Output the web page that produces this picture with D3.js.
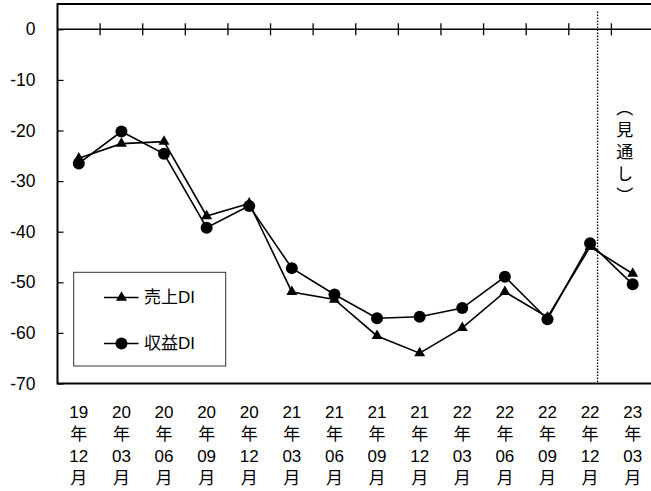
<!DOCTYPE html>
<html>
<head>
<meta charset="utf-8">
<script src="https://cdn.jsdelivr.net/npm/d3@7"></script>
<style>
  html, body { margin: 0; padding: 0; background: #fff; }
  svg { display: block; }
  text { font-family: "Liberation Sans", Arial, "Noto Sans CJK JP", sans-serif; fill: #000; }
</style>
</head>
<body>
<div id="chart"></div>
<script>
// quarter labels (year / month) along the x axis
const years = ['19', '20', '20', '20', '20', '21', '21', '21', '21', '22', '22', '22', '22', '23']
const months = ['12', '03', '06', '09', '12', '03', '06', '09', '12', '03', '06', '09', '12', '03']
const categories = years.map((y, i) => `${y}年${months[i]}月`)

// DI values
const salesDI = [-25.5, -22.6, -22.2, -36.9, -34.4, -51.9, -53.4, -60.6, -64.0, -59.0, -51.9, -56.9, -43.0, -48.3]
const profitDI = [-26.5, -20.2, -24.6, -39.2, -34.9, -47.2, -52.4, -57.1, -56.8, -55.1, -48.9, -57.3, -42.3, -50.4]

const yTicks = [0, -10, -20, -30, -40, -50, -60, -70]
const seriesNames = ['売上DI', '収益DI']
const forecastLabel = '（見通し）'

const W = 651
const H = 491
const plot = { left: 57.5, right: 654, top: 4, bottom: 383.5 }

const x = d3.scaleBand().domain(categories).range([plot.left, plot.right])
const y = d3.scaleLinear().domain([-70, 5]).range([plot.bottom, plot.top])
const cx = (i) => x(categories[i]) + x.bandwidth() / 2

const svg = d3.select('#chart').append('svg')
  .attr('width', W)
  .attr('height', H)

// frame
svg.append('rect')
  .attr('x', plot.left)
  .attr('y', plot.top)
  .attr('width', plot.right - plot.left)
  .attr('height', plot.bottom - plot.top)
  .attr('fill', 'none')
  .attr('stroke', '#000')
  .attr('stroke-width', 2)

// y axis, ticks pointing inward, plain hyphen minus
const yAxis = svg.append('g')
  .attr('transform', `translate(${plot.left},0)`)
  .call(d3.axisLeft(y).tickValues(yTicks).tickFormat((d) => String(d))
    .tickSizeInner(-6).tickSizeOuter(0).tickPadding(22))
yAxis.select('.domain').remove()
yAxis.selectAll('.tick line').attr('stroke', '#000').attr('stroke-width', 1.2)
yAxis.selectAll('.tick text')
  .attr('font-size', 17.5)
  .attr('font-family', '"Liberation Sans", Arial, sans-serif')

// zero line with category boundary ticks
svg.append('line')
  .attr('x1', plot.left)
  .attr('x2', plot.right)
  .attr('y1', y(0))
  .attr('y2', y(0))
  .attr('stroke', '#000')
  .attr('stroke-width', 1.6)

svg.append('g')
  .selectAll('line')
  .data(categories.slice(1))
  .join('line')
  .attr('x1', (d) => x(d))
  .attr('x2', (d) => x(d))
  .attr('y1', y(0) - 6)
  .attr('y2', y(0) + 6)
  .attr('stroke', '#000')
  .attr('stroke-width', 1.3)

// x labels, stacked vertically
const xl = svg.append('g')
  .selectAll('text')
  .data(categories)
  .join('text')
  .attr('text-anchor', 'middle')
  .attr('font-size', 17)
xl.each(function (d, i) {
  const t = d3.select(this)
  const parts = [years[i], '年', months[i], '月']
  parts.forEach((p, j) => {
    t.append('tspan')
      .attr('x', cx(i))
      .attr('y', 418 + j * 22)
      .text(p)
  })
})

// forecast divider
svg.append('line')
  .attr('x1', x(categories[12]) + x.bandwidth() * 0.675)
  .attr('x2', x(categories[12]) + x.bandwidth() * 0.675)
  .attr('y1', y(3.5))
  .attr('y2', plot.bottom)
  .attr('stroke', '#000')
  .attr('stroke-width', 1.3)
  .attr('stroke-dasharray', '1.5 1.5')

svg.append('text')
  .attr('x', x(categories[13]) + x.bandwidth() * 0.265)
  .attr('y', 99)
  .attr('font-size', 17)
  .attr('font-family', '"Noto Sans CJK JP", sans-serif')
  .style('writing-mode', 'vertical-rl')
  .style('letter-spacing', '5px')
  .text(forecastLabel)

// series
const line = d3.line().x((d, i) => cx(i)).y((d) => y(d))
const triangle = d3.symbol().type(d3.symbolTriangle).size(52)

svg.append('path')
  .datum(salesDI)
  .attr('d', line)
  .attr('fill', 'none')
  .attr('stroke', '#000')
  .attr('stroke-width', 1.6)
svg.append('path')
  .datum(profitDI)
  .attr('d', line)
  .attr('fill', 'none')
  .attr('stroke', '#000')
  .attr('stroke-width', 1.6)

svg.append('g')
  .selectAll('path')
  .data(salesDI)
  .join('path')
  .attr('d', triangle)
  .attr('transform', (d, i) => `translate(${cx(i)},${y(d)})`)
  .attr('fill', '#000')

svg.append('g')
  .selectAll('circle')
  .data(profitDI)
  .join('circle')
  .attr('cx', (d, i) => cx(i))
  .attr('cy', (d) => y(d))
  .attr('r', 6)
  .attr('fill', '#000')

// legend
const legend = svg.append('g')
legend.append('rect')
  .attr('x', 73.7)
  .attr('y', 272.3)
  .attr('width', 152)
  .attr('height', 93.7)
  .attr('fill', '#fff')
  .attr('stroke', '#333')
  .attr('stroke-width', 1)

const items = legend.selectAll('g')
  .data(seriesNames)
  .join('g')
  .attr('transform', (d, i) => `translate(121.5,${297.5 + i * 46})`)
items.append('line')
  .attr('x1', -17.5)
  .attr('x2', 17)
  .attr('stroke', '#000')
  .attr('stroke-width', 1.6)
items.filter((d, i) => i === 0).append('path')
  .attr('d', triangle)
  .attr('fill', '#000')
items.filter((d, i) => i === 1).append('circle')
  .attr('r', 6)
  .attr('fill', '#000')
items.append('text')
  .attr('x', 22.5)
  .attr('dy', '0.35em')
  .attr('font-size', 17)
  .text((d) => d)
</script>
</body>
</html>
